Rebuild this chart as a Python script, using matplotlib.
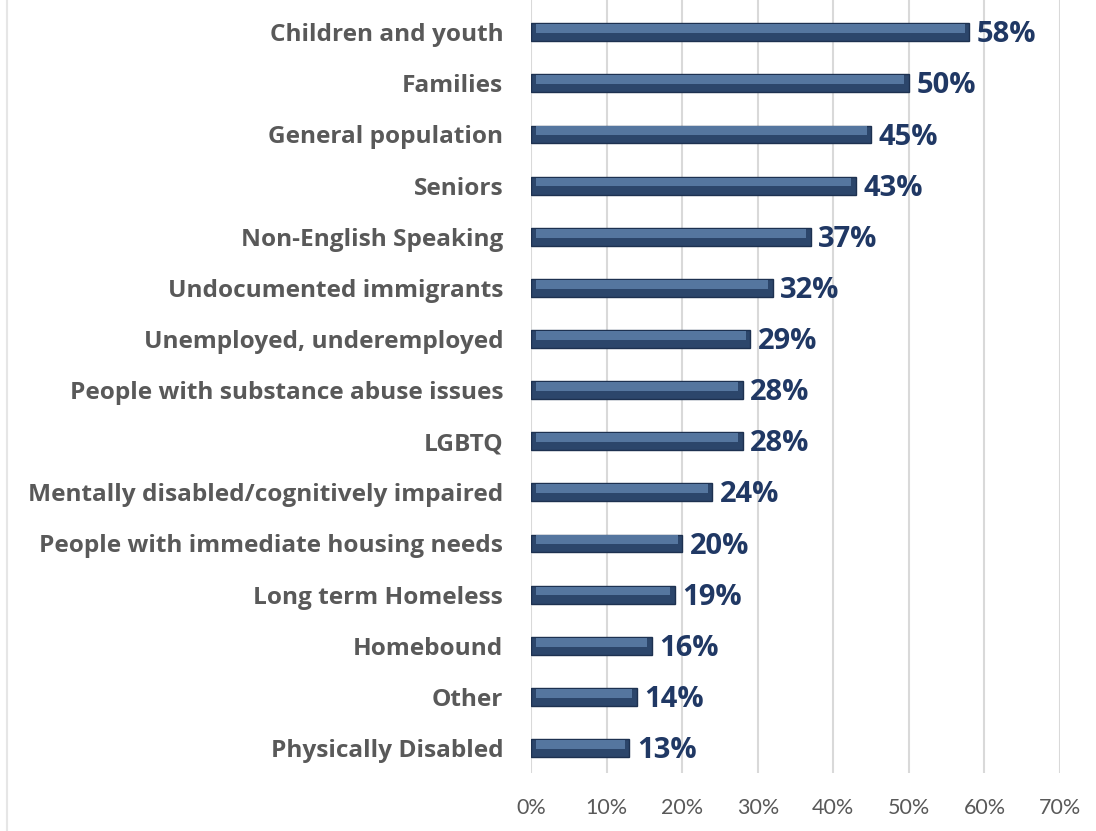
import matplotlib.pyplot as plt
from matplotlib.lines import Line2D

categories = [
    "Children and youth",
    "Families",
    "General population",
    "Seniors",
    "Non-English Speaking",
    "Undocumented immigrants",
    "Unemployed, underemployed",
    "People with substance abuse issues",
    "LGBTQ",
    "Mentally disabled/cognitively impaired",
    "People with immediate housing needs",
    "Long term Homeless",
    "Homebound",
    "Other",
    "Physically Disabled",
]
values = [58, 50, 45, 43, 37, 32, 29, 28, 28, 24, 20, 19, 16, 14, 13]
xticks = [0, 10, 20, 30, 40, 50, 60, 70]

plt.rcParams["font.family"] = ["Lato", "DejaVu Sans"]
bold_font = ["Open Sans", "DejaVu Sans"]

fig = plt.figure(figsize=(10.96, 8.31), dpi=100)
ax = fig.add_axes([0.4845, 0.0698, 0.4827, 0.9302])

ypos = list(range(len(categories)))
h = 0.35

# base bar plus a lighter band on the upper half for the bevelled look
ax.barh(ypos, values, height=h, color="#2C466B", edgecolor="#1D3150",
        linewidth=1.0, zorder=3)
ax.barh([y - h * 0.2 for y in ypos], [v - 1.2 for v in values], left=0.6,
        height=h * 0.5, color="#55769F", linewidth=0, zorder=4)

for y, v in zip(ypos, values):
    ax.text(v + 1.0, y + 0.05, f"{v}%", va="center", ha="left",
            fontsize=21, fontweight="bold", color="#203864", family=bold_font)

ax.set_xlim(0, 70)
ax.set_ylim(len(categories) - 1 + 0.49, -0.63)
ax.set_xticks(xticks)
ax.set_xticklabels([f"{t}%" for t in xticks], fontsize=15.5, color="#595959")
ax.set_yticks(ypos)
ax.set_yticklabels(categories, fontsize=17.6, fontweight="bold", color="#595959",
                   family=bold_font)
ax.tick_params(axis="both", length=0)
ax.tick_params(axis="x", pad=18)
ax.tick_params(axis="y", pad=20)
ax.grid(axis="x", color="#D9D9D9", linewidth=1.5, zorder=0)
for s in ax.spines.values():
    s.set_visible(False)

fig.add_artist(Line2D([0.006, 0.006], [0, 1], color="#E6E6E6", linewidth=1.5))

fig.savefig("out.png", dpi=100)
